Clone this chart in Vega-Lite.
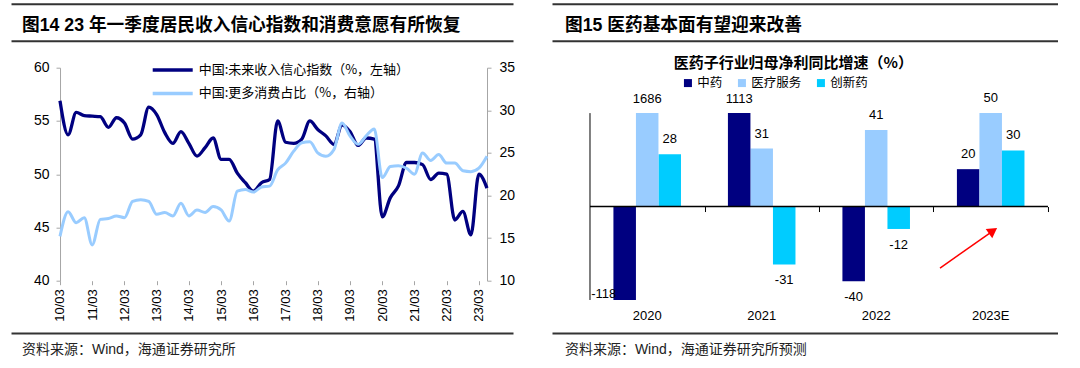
{
  "$schema": "https://vega.github.io/schema/vega-lite/v6.json",
  "padding": {"left": 11, "top": 3.7, "right": 0, "bottom": 0},
  "autosize": {"type": "pad"},
  "background": "white",
  "config": {
    "view": {"stroke": null},
    "font": "Liberation Sans, Noto Sans CJK SC",
    "title": {"font": "Liberation Sans, Noto Sans CJK SC", "color": "#000"},
    "axis": {"labelFont": "Liberation Sans, Noto Sans CJK SC", "labelColor": "#000", "grid": false, "title": null, "labelOverlap": false},
    "legend": {"labelFont": "Noto Sans CJK SC", "labelColor": "#000", "padding": 0, "title": null, "labelLimit": 400}
  },
  "columns": 2,
  "bounds": "flush",
  "align": "each",
  "spacing": {"row": 0, "column": 39},
  "resolve": {
    "scale": {"color": "independent", "stroke": "independent"},
    "legend": {"color": "independent", "stroke": "independent"}
  },
  "concat": [
    {
      "width": 502, "height": 36.5,
      "data": {"values": []},
      "title": {"text": "图14 23 年一季度居民收入信心指数和消费意愿有所恢复", "orient": "top", "anchor": "start", "frame": "group", "fontSize": 17.7, "fontWeight": "bold", "offset": -31, "dx": 11},
      "mark": {"type": "point", "opacity": 0},
      "encoding": {"x": {"field": "v", "type": "quantitative", "scale": {"domain": [0, 1], "nice": false},
                         "axis": {"orient": "top", "domainColor": "#333", "domainWidth": 2, "ticks": false, "labels": false}}}
    },
    {
      "width": 506, "height": 36.5,
      "data": {"values": []},
      "title": {"text": "图15 医药基本面有望迎来改善", "orient": "top", "anchor": "start", "frame": "group", "fontSize": 17.7, "fontWeight": "bold", "offset": -31, "dx": 13},
      "mark": {"type": "point", "opacity": 0},
      "encoding": {"x": {"field": "v", "type": "quantitative", "scale": {"domain": [0, 1], "nice": false},
                         "axis": {"orient": "top", "domainColor": "#333", "domainWidth": 2, "ticks": false, "labels": false}}}
    },
    {
      "width": 502, "height": 26.8,
      "data": {"values": []},
      "mark": {"type": "point", "opacity": 0},
      "encoding": {"x": {"field": "v", "type": "quantitative", "scale": {"domain": [0, 1], "nice": false},
                         "axis": {"orient": "top", "domainColor": "#333", "domainWidth": 2, "ticks": false, "labels": false}}}
    },
    {
      "width": 506, "height": 26.8,
      "data": {"values": []},
      "mark": {"type": "point", "opacity": 0},
      "encoding": {"x": {"field": "v", "type": "quantitative", "scale": {"domain": [0, 1], "nice": false},
                         "axis": {"orient": "top", "domainColor": "#333", "domainWidth": 2, "ticks": false, "labels": false}}}
    },
    {
      "width": 502,
      "height": 213,
      "data": {"values": [
        {"q": "2010-03-01", "income": 56.9, "consume": 15.2},
        {"q": "2010-06-01", "income": 53.7, "consume": 18.1},
        {"q": "2010-09-01", "income": 55.8, "consume": 16.8},
        {"q": "2010-12-01", "income": 55.5, "consume": 17.4},
        {"q": "2011-03-01", "income": 55.45, "consume": 14.2},
        {"q": "2011-06-01", "income": 55.4, "consume": 17.2},
        {"q": "2011-09-01", "income": 54.4, "consume": 17.3},
        {"q": "2011-12-01", "income": 55.3, "consume": 17.6},
        {"q": "2012-03-01", "income": 54.8, "consume": 17.4},
        {"q": "2012-06-01", "income": 53.3, "consume": 19.3},
        {"q": "2012-09-01", "income": 53.7, "consume": 19.5},
        {"q": "2012-12-01", "income": 56.3, "consume": 19.3},
        {"q": "2013-03-01", "income": 55.6, "consume": 17.8},
        {"q": "2013-06-01", "income": 53.9, "consume": 18.0},
        {"q": "2013-09-01", "income": 52.9, "consume": 17.6},
        {"q": "2013-12-01", "income": 54.0, "consume": 19.1},
        {"q": "2014-03-01", "income": 52.9, "consume": 17.6},
        {"q": "2014-06-01", "income": 51.7, "consume": 18.3},
        {"q": "2014-09-01", "income": 52.5, "consume": 18.0},
        {"q": "2014-12-01", "income": 53.4, "consume": 18.7},
        {"q": "2015-03-01", "income": 51.4, "consume": 18.3},
        {"q": "2015-06-01", "income": 51.4, "consume": 17.0},
        {"q": "2015-09-01", "income": 50.1, "consume": 20.5},
        {"q": "2015-12-01", "income": 49.2, "consume": 20.7},
        {"q": "2016-03-01", "income": 48.4, "consume": 20.4},
        {"q": "2016-06-01", "income": 49.2, "consume": 21.0},
        {"q": "2016-09-01", "income": 49.5, "consume": 21.1},
        {"q": "2016-12-01", "income": 55.0, "consume": 23.0},
        {"q": "2017-03-01", "income": 53.0, "consume": 23.8},
        {"q": "2017-06-01", "income": 52.9, "consume": 25.2},
        {"q": "2017-09-01", "income": 53.3, "consume": 26.2},
        {"q": "2017-12-01", "income": 55.0, "consume": 26.3},
        {"q": "2018-03-01", "income": 54.2, "consume": 25.0},
        {"q": "2018-06-01", "income": 53.6, "consume": 24.6},
        {"q": "2018-09-01", "income": 52.8, "consume": 25.4},
        {"q": "2018-12-01", "income": 54.6, "consume": 28.5},
        {"q": "2019-03-01", "income": 54.0, "consume": 27.0},
        {"q": "2019-06-01", "income": 52.7, "consume": 26.0},
        {"q": "2019-09-01", "income": 53.4, "consume": 27.0},
        {"q": "2019-12-01", "income": 53.3, "consume": 27.8},
        {"q": "2020-03-01", "income": 46.0, "consume": 22.1},
        {"q": "2020-06-01", "income": 47.8, "consume": 23.4},
        {"q": "2020-09-01", "income": 48.9, "consume": 23.5},
        {"q": "2020-12-01", "income": 51.1, "consume": 23.2},
        {"q": "2021-03-01", "income": 51.1, "consume": 22.5},
        {"q": "2021-06-01", "income": 50.9, "consume": 25.0},
        {"q": "2021-09-01", "income": 49.5, "consume": 24.1},
        {"q": "2021-12-01", "income": 50.1, "consume": 24.8},
        {"q": "2022-03-01", "income": 50.0, "consume": 23.8},
        {"q": "2022-06-01", "income": 45.7, "consume": 23.8},
        {"q": "2022-09-01", "income": 46.5, "consume": 22.9},
        {"q": "2022-12-01", "income": 44.3, "consume": 22.8},
        {"q": "2023-03-01", "income": 50.0, "consume": 23.2},
        {"q": "2023-06-01", "income": 48.7, "consume": 24.6}
      ]},
      "encoding": {
        "x": {
          "field": "q", "type": "temporal",
          "scale": {"type": "utc", "domain": [{"year": 2008, "month": 8, "date": 23, "utc": true}, {"year": 2024, "month": 3, "date": 22, "utc": true}]},
          "axis": {
            "values": [
              {"year": 2010, "month": 3, "date": 1, "utc": true},
              {"year": 2011, "month": 3, "date": 1, "utc": true},
              {"year": 2012, "month": 3, "date": 1, "utc": true},
              {"year": 2013, "month": 3, "date": 1, "utc": true},
              {"year": 2014, "month": 3, "date": 1, "utc": true},
              {"year": 2015, "month": 3, "date": 1, "utc": true},
              {"year": 2016, "month": 3, "date": 1, "utc": true},
              {"year": 2017, "month": 3, "date": 1, "utc": true},
              {"year": 2018, "month": 3, "date": 1, "utc": true},
              {"year": 2019, "month": 3, "date": 1, "utc": true},
              {"year": 2020, "month": 3, "date": 1, "utc": true},
              {"year": 2021, "month": 3, "date": 1, "utc": true},
              {"year": 2022, "month": 3, "date": 1, "utc": true},
              {"year": 2023, "month": 3, "date": 1, "utc": true}
            ],
            "format": "%y/%m", "labelAngle": 270, "labelFontSize": 13, "labelPadding": 4, "labelOverlap": false,
            "domain": false, "tickSize": 4, "tickColor": "#a6a6a6"
          }
        }
      },
      "layer": [
        {
          "encoding": {
            "y": {"field": "income", "type": "quantitative", "scale": {"domain": [40, 60], "nice": false, "zero": false},
                  "axis": {"orient": "left", "offset": -49, "values": [40, 45, 50, 55, 60], "labelFontSize": 14, "tickSize": 4, "labelPadding": 7, "labelOverlap": false, "domainColor": "#a6a6a6", "tickColor": "#a6a6a6"}}
          },
          "layer": [
            {
              "transform": [{"aggregate": [{"op": "count", "as": "n"}]}],
              "mark": {"type": "rule", "color": "#a6a6a6", "strokeWidth": 1},
              "encoding": {
                "x": {"datum": {"year": 2010, "month": 3, "date": 1, "utc": true}, "type": "temporal"},
                "x2": {"datum": {"year": 2023, "month": 6, "date": 1, "utc": true}},
                "y": {"datum": 40, "type": "quantitative"}
              }
            },
            {
              "mark": {"type": "line", "strokeWidth": 3.3, "interpolate": "monotone"},
              "encoding": {
                "color": {"datum": "中国:未来收入信心指数（%，左轴）", "type": "nominal", "scale": {"range": ["#000080"]},
                          "legend": {"orient": "none", "legendX": 139.7, "legendY": -19.7, "symbolType": "stroke", "symbolSize": 1600, "symbolStrokeWidth": 3.5, "labelFontSize": 13, "labelOffset": 4, "labelLimit": 400}}
              }
            }
          ]
        },
        {
          "mark": {"type": "line", "strokeWidth": 3, "interpolate": "monotone"},
          "encoding": {
            "y": {"field": "consume", "type": "quantitative", "scale": {"domain": [10, 35], "nice": false, "zero": false},
                  "axis": {"orient": "right", "offset": -26, "values": [10, 15, 20, 25, 30, 35], "labelFontSize": 14, "tickSize": 4, "labelPadding": 8, "labelOverlap": false, "domainColor": "#a6a6a6", "tickColor": "#a6a6a6"}},
            "stroke": {"datum": "中国:更多消费占比（%，右轴）", "type": "nominal", "scale": {"range": ["#99CCFF"]},
                       "legend": {"orient": "none", "legendX": 139.7, "legendY": 3.7, "symbolType": "stroke", "symbolSize": 1600, "symbolStrokeWidth": 3.5, "labelFontSize": 13, "labelOffset": 4, "labelLimit": 400}}
          }
        }
      ],
      "resolve": {"scale": {"y": "independent"}}
    },
    {
      "width": 506,
      "height": 232.3,
      "title": {"text": "医药子行业归母净利同比增速（%）", "fontSize": 15, "fontWeight": "bold", "font": "Noto Sans CJK SC", "anchor": "middle", "frame": "group", "dx": -11.7, "offset": -3.7},
      "layer": [
        {
          "data": {"values": [
            {"year": "2020", "cat": "中药", "value": -118},
            {"year": "2020", "cat": "医疗服务", "value": 1686},
            {"year": "2020", "cat": "创新药", "value": 28},
            {"year": "2021", "cat": "中药", "value": 1113},
            {"year": "2021", "cat": "医疗服务", "value": 31},
            {"year": "2021", "cat": "创新药", "value": -31},
            {"year": "2022", "cat": "中药", "value": -40},
            {"year": "2022", "cat": "医疗服务", "value": 41},
            {"year": "2022", "cat": "创新药", "value": -12},
            {"year": "2023E", "cat": "中药", "value": 20},
            {"year": "2023E", "cat": "医疗服务", "value": 50},
            {"year": "2023E", "cat": "创新药", "value": 30}
          ]},
          "encoding": {
            "x": {"field": "year", "type": "nominal", "scale": {"domain": ["2020", "2021", "2022", "2023E"], "paddingInner": 0.41, "paddingOuter": 0.4146, "align": 0.647},
                  "axis": {"orient": "bottom", "domain": false, "ticks": false, "labelPadding": 10, "labelAngle": 0, "labelFontSize": 13, "labelOverlap": false}},
            "xOffset": {"field": "cat", "type": "nominal", "scale": {"domain": ["中药", "医疗服务", "创新药"], "paddingInner": 0, "paddingOuter": 0}},
            "y": {"field": "value", "type": "quantitative", "scale": {"domain": [-50, 74.29], "nice": false, "zero": false},
                  "axis": {"values": [-50, -40, -30, -20, -10, 0, 10, 20, 30, 40, 50], "labelExpr": "datum.value", "offset": -38, "domain": false, "tickSize": 4, "tickColor": "#000", "labelPadding": 8, "labelFontSize": 12, "labelOverlap": false}},
            "color": {"field": "cat", "type": "nominal", "scale": {"domain": ["中药", "医疗服务", "创新药"], "range": ["#000080", "#99CCFF", "#00CCFF"]},
                      "legend": {"orient": "none", "direction": "horizontal", "legendX": 129.7, "legendY": 9, "symbolType": "square", "symbolSize": 64, "symbolStrokeWidth": 0, "labelFontSize": 12.5, "labelOffset": 3, "columnPadding": 13}}
          },
          "layer": [
            {"transform": [{"filter": "datum.value >= -50 && datum.value <= 50"}], "mark": {"type": "bar"}},
            {"transform": [{"filter": "datum.value > 50"}], "mark": {"type": "bar"},
             "encoding": {"y": {"datum": 50, "type": "quantitative", "axis": null}, "y2": {"datum": 0}}},
            {"transform": [{"filter": "datum.value < -50"}], "mark": {"type": "bar"},
             "encoding": {"y": {"datum": -50, "type": "quantitative", "axis": null}, "y2": {"datum": 0}}},
            {"transform": [{"filter": "datum.value >= 0 && datum.value <= 50"}],
             "mark": {"type": "text", "dy": -15, "baseline": "middle", "fontSize": 13},
             "encoding": {"text": {"field": "value", "type": "nominal"}, "color": {"value": "#000"}}},
            {"transform": [{"filter": "datum.value > 50"}],
             "mark": {"type": "text", "dy": -14, "baseline": "middle", "fontSize": 13},
             "encoding": {"y": {"datum": 50, "type": "quantitative", "axis": null}, "text": {"field": "value", "type": "nominal"}, "color": {"value": "#000"}}},
            {"transform": [{"filter": "datum.value < 0 && datum.value >= -50"}],
             "mark": {"type": "text", "dy": 16, "baseline": "middle", "fontSize": 13},
             "encoding": {"text": {"field": "value", "type": "nominal"}, "color": {"value": "#000"}}},
            {"transform": [{"filter": "datum.value < -50"}],
             "mark": {"type": "text", "dx": -21, "dy": -6, "baseline": "middle", "fontSize": 13},
             "encoding": {"y": {"datum": -50, "type": "quantitative", "axis": null}, "text": {"field": "value", "type": "nominal"}, "color": {"value": "#000"}}}
          ]
        },
        {
          "data": {"values": [
            {"ax": 3.057, "value": -32.9, "part": "tail"},
            {"ax": 3.52, "value": -13.0, "part": "head"}
          ]},
          "encoding": {
            "x": {"field": "ax", "type": "quantitative", "scale": {"domain": [-0.33188, 4.08734], "nice": false, "zero": false},
                  "axis": {"orient": "bottom", "offset": -93.45, "values": [1, 2, 3, 4], "domain": false, "labels": false, "tickSize": 5, "tickColor": "#000", "zindex": 1}},
            "y": {"field": "value", "type": "quantitative", "axis": null}
          },
          "layer": [
            {"mark": {"type": "line", "color": "#FF0000", "strokeWidth": 1.5}},
            {"transform": [{"filter": "datum.part == 'head'"}],
             "mark": {"type": "point", "shape": "triangle-up", "angle": 55, "size": 130, "filled": true, "color": "#FF0000", "opacity": 1}},
            {"transform": [{"filter": "datum.part == 'head'"}],
             "mark": {"type": "rule", "color": "#000", "strokeWidth": 1.5},
             "encoding": {"x": {"datum": 0, "type": "quantitative"}, "x2": {"datum": 4}, "y": {"datum": 0, "type": "quantitative", "axis": null}}},
            {"transform": [{"filter": "datum.part == 'head'"}],
             "mark": {"type": "rule", "color": "#000", "strokeWidth": 1},
             "encoding": {"x": {"datum": 0, "type": "quantitative"}, "y": {"datum": -50, "type": "quantitative", "axis": null}, "y2": {"datum": 50}}}
          ]
        }
      ],
      "resolve": {"scale": {"x": "independent"}, "axis": {"x": "independent"}}
    },
    {
      "width": 502, "height": 20,
      "data": {"values": []},
      "title": {"text": "资料来源：Wind，海通证券研究所", "orient": "top", "anchor": "start", "frame": "group", "fontSize": 14, "fontWeight": "normal", "offset": -56.6, "dx": 11, "color": "#222"},
      "mark": {"type": "point", "opacity": 0},
      "encoding": {"x": {"field": "v", "type": "quantitative", "scale": {"domain": [0, 1], "nice": false},
                         "axis": {"orient": "top", "offset": -32.4, "domainColor": "#333", "domainWidth": 2, "ticks": false, "labels": false}}}
    },
    {
      "width": 506, "height": 20,
      "data": {"values": []},
      "title": {"text": "资料来源：Wind，海通证券研究所预测", "orient": "top", "anchor": "start", "frame": "group", "fontSize": 14, "fontWeight": "normal", "offset": -56.6, "dx": 13, "color": "#222"},
      "mark": {"type": "point", "opacity": 0},
      "encoding": {"x": {"field": "v", "type": "quantitative", "scale": {"domain": [0, 1], "nice": false},
                         "axis": {"orient": "top", "offset": -32.4, "domainColor": "#333", "domainWidth": 2, "ticks": false, "labels": false}}}
    }
  ]
}
